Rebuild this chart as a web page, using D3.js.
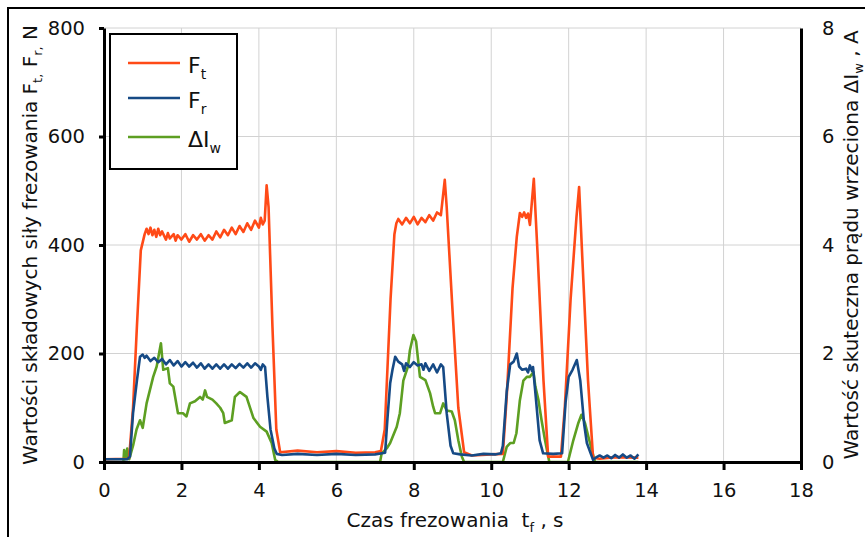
<!DOCTYPE html>
<html>
<head>
<meta charset="utf-8">
<script src="https://cdn.jsdelivr.net/npm/d3@7"></script>
<style>
    body { margin: 0; background: #fff; }
    svg { display: block; font-family: "DejaVu Sans", sans-serif; }
</style>
</head>
<body>
<div id="chart"></div>
<script>
// czas [s], wartość
const ftPoints = [
    [0, 5], [0.6, 6], [0.65, 8], [0.75, 100], [0.85, 250], [0.95, 390], [1.05, 420], [1.1, 430],
    [1.15, 420], [1.2, 432], [1.25, 418], [1.3, 428], [1.35, 415], [1.4, 430], [1.45, 418], [1.5, 425],
    [1.6, 410], [1.65, 422], [1.7, 412], [1.8, 420], [1.85, 408], [1.9, 418], [2.0, 410], [2.1, 420],
    [2.2, 406], [2.3, 418], [2.4, 410], [2.5, 420], [2.6, 408], [2.7, 418], [2.8, 410], [2.9, 425],
    [3.0, 414], [3.1, 428], [3.2, 418], [3.3, 432], [3.4, 420], [3.5, 435], [3.6, 424], [3.7, 440],
    [3.8, 428], [3.9, 445], [4.0, 432], [4.05, 450], [4.1, 438], [4.15, 445], [4.2, 510], [4.25, 470],
    [4.35, 250], [4.45, 60], [4.55, 18], [5.0, 21], [5.5, 18], [6.0, 20], [6.5, 17], [7.0, 18],
    [7.15, 20], [7.25, 60], [7.4, 300], [7.5, 420], [7.55, 440], [7.6, 448], [7.7, 438], [7.8, 450],
    [7.9, 440], [8.0, 452], [8.1, 438], [8.2, 450], [8.3, 442], [8.4, 455], [8.5, 445], [8.6, 460],
    [8.7, 455], [8.8, 520], [8.85, 470], [9.0, 280], [9.15, 100], [9.3, 18], [9.5, 12], [10.0, 14],
    [10.3, 15], [10.4, 120], [10.55, 320], [10.66, 415], [10.74, 459], [10.8, 452], [10.85, 460],
    [10.9, 450], [10.95, 458], [11.0, 437], [11.1, 522], [11.2, 380], [11.35, 150], [11.47, 10],
    [11.8, 10], [11.9, 100], [12.05, 300], [12.2, 450], [12.27, 507], [12.35, 380], [12.5, 150],
    [12.63, 8], [12.8, 6], [13.2, 9], [13.8, 8]
];

const frPoints = [
    [0, 5], [0.6, 5], [0.67, 10], [0.75, 90], [0.85, 150], [0.93, 194], [1.0, 198], [1.05, 192],
    [1.1, 196], [1.2, 186], [1.3, 192], [1.4, 184], [1.5, 190], [1.6, 180], [1.7, 188], [1.8, 178],
    [1.9, 186], [2.0, 176], [2.1, 184], [2.2, 176], [2.3, 183], [2.4, 174], [2.5, 182], [2.6, 172],
    [2.7, 180], [2.8, 172], [2.9, 180], [3.0, 172], [3.1, 180], [3.2, 172], [3.3, 180], [3.4, 173],
    [3.5, 181], [3.6, 174], [3.7, 182], [3.8, 174], [3.9, 182], [4.0, 176], [4.05, 170], [4.1, 180],
    [4.16, 175], [4.22, 120], [4.3, 60], [4.4, 25], [4.46, 15], [4.6, 13], [5.0, 15], [5.5, 13],
    [6.0, 15], [6.5, 13], [7.0, 14], [7.26, 17], [7.32, 80], [7.39, 145], [7.45, 170], [7.52, 194],
    [7.6, 185], [7.7, 180], [7.75, 168], [7.8, 182], [7.9, 175], [8.0, 184], [8.1, 178], [8.2, 180],
    [8.25, 170], [8.3, 182], [8.4, 168], [8.5, 180], [8.6, 165], [8.7, 180], [8.76, 175], [8.85, 90],
    [8.95, 30], [9.02, 16], [9.2, 14], [9.5, 12], [9.8, 15], [10.1, 14], [10.25, 16], [10.3, 30],
    [10.4, 130], [10.49, 180], [10.58, 185], [10.66, 200], [10.72, 176], [10.8, 170], [10.9, 172],
    [10.95, 165], [11.0, 178], [11.05, 168], [11.08, 175], [11.15, 120], [11.25, 40], [11.34, 16],
    [11.6, 15], [11.83, 16], [11.92, 110], [12.0, 157], [12.1, 170], [12.21, 188], [12.3, 150],
    [12.4, 70], [12.47, 35], [12.63, 4], [12.7, 8], [12.8, 12], [12.9, 8], [13.0, 12], [13.1, 7],
    [13.2, 13], [13.3, 8], [13.4, 14], [13.5, 8], [13.6, 12], [13.7, 6], [13.8, 14]
];

const iwPoints = [
    [0, 0], [0.5, 0], [0.52, 0.22], [0.56, 0.05], [0.6, 0.25], [0.65, 0.05], [0.75, 0.3], [0.84, 0.6],
    [0.93, 0.77], [1.0, 0.63], [1.1, 1.08], [1.27, 1.57], [1.36, 1.76], [1.47, 2.19], [1.53, 1.7],
    [1.65, 1.73], [1.7, 1.45], [1.79, 1.39], [1.91, 0.9], [2.04, 0.9], [2.13, 0.84], [2.22, 1.08],
    [2.35, 1.12], [2.48, 1.2], [2.55, 1.15], [2.61, 1.32], [2.66, 1.2], [2.8, 1.15], [2.9, 1.08],
    [3.0, 1.0], [3.08, 0.9], [3.12, 0.72], [3.3, 0.77], [3.38, 1.2], [3.51, 1.29], [3.68, 1.2],
    [3.86, 0.81], [4.03, 0.65], [4.2, 0.56], [4.33, 0.35], [4.42, 0.04], [4.5, 0], [7.13, 0],
    [7.17, 0.16], [7.3, 0.25], [7.39, 0.35], [7.56, 0.65], [7.64, 0.9], [7.73, 1.5], [7.85, 1.76],
    [7.9, 2.06], [7.99, 2.34], [8.06, 2.22], [8.16, 1.57], [8.3, 1.51], [8.42, 1.27], [8.5, 1.02],
    [8.55, 0.9], [8.68, 0.9], [8.76, 1.08], [8.85, 0.95], [8.98, 0.93], [9.06, 0.77], [9.15, 0.4],
    [9.24, 0.1], [9.3, 0], [10.3, 0], [10.4, 0.28], [10.49, 0.35], [10.58, 0.35], [10.65, 0.53],
    [10.74, 1.14], [10.83, 1.5], [10.92, 1.57], [11.0, 1.57], [11.09, 1.66], [11.14, 1.39],
    [11.22, 1.14], [11.3, 0.77], [11.39, 0.4], [11.5, 0], [11.98, 0], [12.12, 0.4], [12.25, 0.72],
    [12.33, 0.87], [12.42, 0.72], [12.55, 0.35], [12.68, 0], [13.8, 0]
];

const xTicks = [0, 2, 4, 6, 8, 10, 12, 14, 16, 18];
const leftTicks = [0, 200, 400, 600, 800];
const rightTicks = [0, 2, 4, 6, 8];

const width = 865;
const height = 537;
const margin = { top: 28, right: 64, bottom: 75, left: 104 };
const tickFont = 19.5;
const titleFont = 20;

const svg = d3.select("#chart")
    .append("svg")
    .attr("width", width)
    .attr("height", height);

const x = d3.scaleLinear().domain([0, 18]).range([margin.left, width - margin.right]);
const yLeft = d3.scaleLinear().domain([0, 800]).range([height - margin.bottom, margin.top]);
const yRight = d3.scaleLinear().domain([0, 8]).range([height - margin.bottom, margin.top]);

// ramka
svg.append("rect")
    .attr("x", 8).attr("y", 8)
    .attr("width", 900).attr("height", 600)
    .attr("fill", "none")
    .attr("stroke", "#000")
    .attr("stroke-width", 2);

// siatka
svg.append("g")
    .selectAll("line")
    .data(xTicks.slice(1, -1))
    .enter()
    .append("line")
    .attr("x1", d => x(d)).attr("x2", d => x(d))
    .attr("y1", yLeft(0)).attr("y2", yLeft(800))
    .attr("stroke", "#d2d2d2");

svg.append("g")
    .selectAll("line")
    .data(leftTicks.slice(1))
    .enter()
    .append("line")
    .attr("x1", x(0)).attr("x2", x(18))
    .attr("y1", d => yLeft(d)).attr("y2", d => yLeft(d))
    .attr("stroke", "#d2d2d2");

// serie
const lineLeft = d3.line().x(d => x(d[0])).y(d => yLeft(d[1]));
const lineRight = d3.line().x(d => x(d[0])).y(d => yRight(d[1]));

const addPath = (points, gen, color) => {
    svg.append("path")
        .datum(points)
        .attr("d", gen)
        .attr("fill", "none")
        .attr("stroke", color)
        .attr("stroke-width", 2.6)
        .attr("stroke-linejoin", "round");
};

addPath(iwPoints, lineRight, "#5d9f22");
addPath(ftPoints, lineLeft, "#ff4a17");
addPath(frPoints, lineLeft, "#164a85");

// osie
const styleAxis = g => {
    g.select(".domain").attr("stroke", "#000").attr("stroke-width", 3);
    g.selectAll(".tick line").attr("stroke", "#000").attr("stroke-width", 3);
    g.selectAll("text").attr("font-size", tickFont).attr("fill", "#111").attr("font-family", "DejaVu Sans");
};

svg.append("g")
    .attr("transform", `translate(0,${yLeft(0)})`)
    .call(d3.axisBottom(x).tickValues(xTicks).tickSize(8).tickSizeOuter(0).tickPadding(13))
    .call(styleAxis);

svg.append("g")
    .attr("transform", `translate(${x(0)},0)`)
    .call(d3.axisLeft(yLeft).tickValues(leftTicks).tickSize(5).tickSizeOuter(0).tickPadding(14))
    .call(styleAxis);

svg.append("g")
    .attr("transform", `translate(${x(18)},0)`)
    .call(d3.axisRight(yRight).tickValues(rightTicks).tickSize(0).tickSizeOuter(0).tickPadding(21))
    .call(styleAxis);

// tytuły osi
const xTitle = svg.append("text")
    .attr("x", 455)
    .attr("y", 527)
    .attr("text-anchor", "middle")
    .attr("font-size", titleFont)
    .attr("fill", "#111");
xTitle.append("tspan").text("Czas frezowania \u00a0t");
xTitle.append("tspan").attr("font-size", 13).attr("dy", 5).text("f");
xTitle.append("tspan").attr("dy", -5).text("\u00a0, s");

const leftTitle = svg.append("text")
    .attr("transform", `translate(37,${(yLeft(0) + yLeft(800)) / 2}) rotate(-90)`)
    .attr("text-anchor", "middle")
    .attr("font-size", titleFont)
    .attr("fill", "#111");
leftTitle.append("tspan").text("Wartości składowych siły frezowania F");
leftTitle.append("tspan").attr("font-size", 13).attr("dy", 5).text("t,");
leftTitle.append("tspan").attr("dy", -5).text(" F");
leftTitle.append("tspan").attr("font-size", 13).attr("dy", 5).text("r,");
leftTitle.append("tspan").attr("dy", -5).text(" N");

const rightTitle = svg.append("text")
    .attr("transform", `translate(858,${(yLeft(0) + yLeft(800)) / 2}) rotate(-90)`)
    .attr("text-anchor", "middle")
    .attr("font-size", titleFont)
    .attr("fill", "#111");
rightTitle.append("tspan").text("Wartość skuteczna prądu wrzeciona ΔI");
rightTitle.append("tspan").attr("font-size", 13).attr("dy", 5).text("w");
rightTitle.append("tspan").attr("dy", -5).text("\u00a0, A");

// legenda
const legendItems = [
    { name: "F", sub: "t", color: "#ff4a17", y: 63 },
    { name: "F", sub: "r", color: "#164a85", y: 98 },
    { name: "ΔI", sub: "w", color: "#5d9f22", y: 137 }
];

svg.append("rect")
    .attr("x", 110).attr("y", 34)
    .attr("width", 127).attr("height", 135)
    .attr("fill", "#fff")
    .attr("stroke", "#000")
    .attr("stroke-width", 2);

const legend = svg.append("g")
    .selectAll("g")
    .data(legendItems)
    .enter()
    .append("g");

legend.append("line")
    .attr("x1", 128).attr("x2", 180)
    .attr("y1", d => d.y).attr("y2", d => d.y)
    .attr("stroke", d => d.color)
    .attr("stroke-width", 2.6);

const legendText = legend.append("text")
    .attr("x", 188)
    .attr("y", d => d.y + 10)
    .attr("font-size", 22)
    .attr("fill", "#111");
legendText.append("tspan").text(d => d.name);
legendText.append("tspan").attr("font-size", 14).attr("dy", 6).text(d => d.sub);
</script>
</body>
</html>
